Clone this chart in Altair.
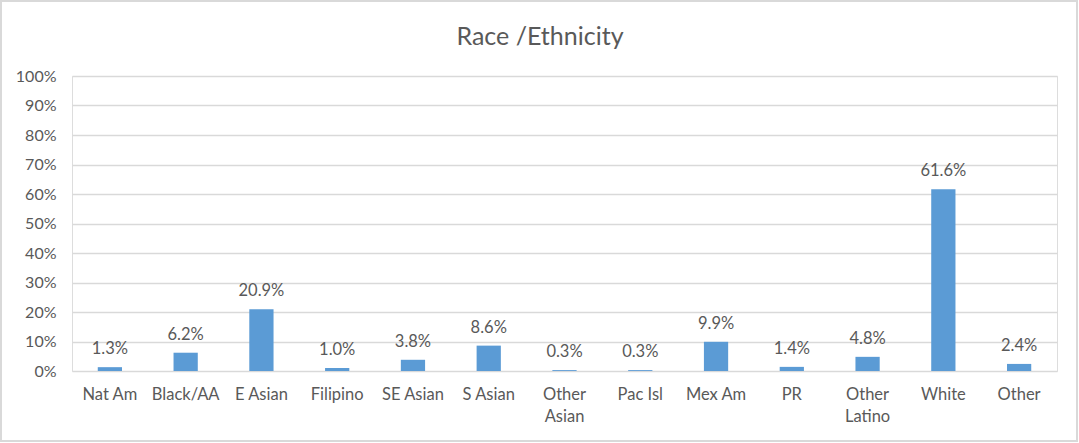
import altair as alt
import pandas as pd

categories = ["Nat Am", "Black/AA", "E Asian", "Filipino", "SE Asian", "S Asian",
              "Other Asian", "Pac Isl", "Mex Am", "PR", "Other Latino", "White", "Other"]
percent_values = [1.3, 6.2, 20.9, 1.0, 3.8, 8.6, 0.3, 0.3, 9.9, 1.4, 4.8, 61.6, 2.4]
y_ticks = [0, 0.1, 0.2, 0.3, 0.4, 0.5, 0.6, 0.7, 0.8, 0.9, 1.0]
title_text = "Race /Ethnicity"

df = pd.DataFrame({"cat": categories, "share": [v / 100 for v in percent_values]})

FONT = "Lato"
GRAY = "#595959"
W, H = 985, 295

x_axis = alt.Axis(labelAngle=0, ticks=False, domain=False, labelPadding=15,
                  labelFontSize=16.5, labelColor=GRAY, labelFont=FONT,
                  labelLineHeight=22,
                  labelExpr="indexof(datum.label, 'Other ') == 0 ? split(datum.label, ' ') : datum.label")
y_axis = alt.Axis(values=y_ticks, format=".0%", ticks=False, domain=False,
                  labelOverlap=False,
                  labelPadding=16, labelFontSize=16, labelColor=GRAY, labelFont=FONT,
                  gridColor="#D9D9D9", gridWidth=1.3)
x_scale = alt.Scale(paddingInner=0.68, paddingOuter=0.34)
y_scale = alt.Scale(domain=[0, 1], nice=False)

base = alt.Chart(df)

bars = base.mark_bar(color="#5B9BD5").encode(
    x=alt.X("cat:N", sort=categories, title=None, scale=x_scale, axis=x_axis),
    y=alt.Y("share:Q", title=None, scale=y_scale, axis=y_axis),
)
labels = base.mark_text(dy=-13, baseline="alphabetic", fontSize=16.5, color=GRAY, font=FONT).encode(
    x=alt.X("cat:N", sort=categories, title=None, scale=x_scale, axis=x_axis),
    y=alt.Y("share:Q", title=None, scale=y_scale, axis=y_axis),
    text=alt.Text("share:Q", format=".1%"),
)

title = alt.Chart(alt.Data(values=[{"t": title_text}])).mark_text(
    fontSize=25, font=FONT, color=GRAY, align="center", baseline="alphabetic"
).encode(x=alt.value(468), y=alt.value(-31), text="t:N")

border = alt.Chart(alt.Data(values=[{"a": 1}])).mark_rect(
    fill=None, stroke="#D9D9D9", strokeWidth=2, clip=False
).encode(x=alt.value(-71), x2=alt.value(W + 20), y=alt.value(-75), y2=alt.value(H + 70))

chart = alt.layer(bars, labels, title, border).properties(
    width=W, height=H,
    padding={"left": 72, "top": 76, "right": 22, "bottom": 72},
    autosize=alt.AutoSizeParams(type="none"),
).configure_view(strokeWidth=0).configure(background="white")

chart.save("out.html", embed_options={"renderer": "svg", "actions": False})
